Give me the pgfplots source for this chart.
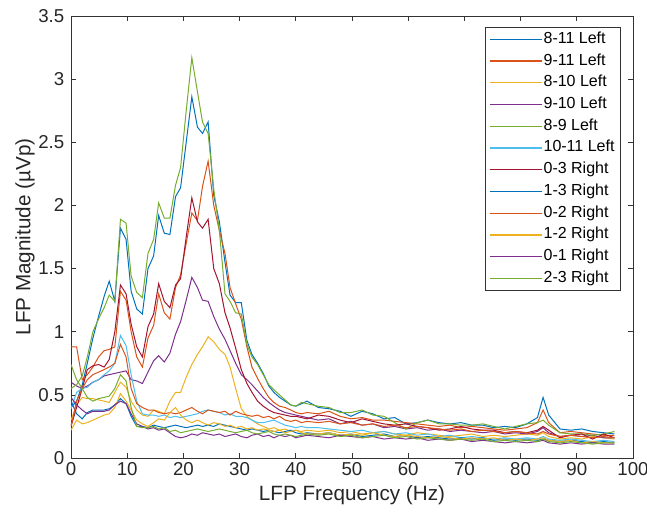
\documentclass[border=0pt]{standalone}
\usepackage{fontspec}
\setmainfont{Liberation Sans}
\usepackage{pgfplots}
\usepackage{pgfplotstable}
\pgfplotsset{compat=1.18}
\definecolor{mblue}{RGB}{0,114,189}
\definecolor{morange}{RGB}{217,83,25}
\definecolor{myellow}{RGB}{237,177,32}
\definecolor{mpurple}{RGB}{126,47,142}
\definecolor{mgreen}{RGB}{119,172,48}
\definecolor{mcyan}{RGB}{77,190,238}
\definecolor{mred}{RGB}{162,20,47}

% columns: A 8-11L, B 9-11L, C 8-10L, D 9-10L, E 8-9L, F 10-11L,
%          G 0-3R, H 1-3R, I 0-2R, J 1-2R, K 0-1R, L 2-3R
\pgfplotstableread{
f    A    B    C    D    E    F    G    H    I    J    K    L
0    0.40 0.88 0.30 0.60 0.55 0.39 0.25 0.45 0.25 0.22 0.48 0.74
1.0  0.45 0.88 0.42 0.57 0.58 0.52 0.40 0.35 0.45 0.30 0.42 0.62
2.0  0.58 0.62 0.48 0.55 0.65 0.55 0.55 0.31 0.55 0.27 0.38 0.55
2.9  0.75 0.66 0.47 0.57 0.80 0.56 0.70 0.36 0.62 0.28 0.35 0.48
3.9  0.95 0.72 0.47 0.60 1.00 0.60 0.73 0.38 0.66 0.30 0.37 0.45
4.9  1.12 0.80 0.46 0.62 1.10 0.62 0.74 0.38 0.68 0.32 0.37 0.47
5.9  1.28 0.85 0.45 0.65 1.19 0.66 0.72 0.38 0.70 0.34 0.37 0.48
6.8  1.40 0.86 0.44 0.66 1.29 0.69 0.78 0.39 0.72 0.35 0.38 0.49
7.8  1.24 0.88 0.52 0.67 1.24 0.75 1.00 0.42 0.75 0.40 0.42 0.55
8.8  1.82 1.32 0.60 0.68 1.89 0.97 1.37 0.47 0.90 0.51 0.45 0.66
9.8  1.73 1.25 0.56 0.69 1.86 0.89 1.30 0.43 0.80 0.45 0.43 0.61
10.7 1.32 1.00 0.45 0.62 1.44 0.66 1.06 0.33 0.55 0.38 0.35 0.40
11.7 1.18 0.80 0.38 0.61 1.31 0.45 0.88 0.25 0.43 0.30 0.27 0.25
12.7 1.14 0.72 0.34 0.59 1.27 0.35 0.80 0.25 0.40 0.27 0.25 0.24
13.7 1.50 0.95 0.33 0.68 1.62 0.34 1.04 0.24 0.38 0.25 0.23 0.24
14.7 1.60 1.05 0.38 0.77 1.73 0.34 1.14 0.26 0.38 0.28 0.24 0.25
15.6 1.92 1.30 0.37 0.81 2.02 0.33 1.38 0.25 0.36 0.31 0.22 0.23
16.6 1.78 1.15 0.35 0.76 1.90 0.34 1.24 0.24 0.35 0.30 0.23 0.24
17.6 1.77 1.10 0.45 0.83 1.90 0.32 1.19 0.25 0.36 0.36 0.20 0.21
18.6 2.07 1.35 0.52 0.98 2.16 0.33 1.37 0.26 0.35 0.40 0.17 0.22
19.5 2.14 1.45 0.52 1.08 2.30 0.32 1.42 0.25 0.36 0.34 0.16 0.20
20.5 2.50 1.70 0.64 1.25 2.75 0.33 1.75 0.24 0.38 0.30 0.17 0.21
21.5 2.86 1.94 0.74 1.43 3.17 0.34 2.06 0.25 0.40 0.28 0.19 0.22
22.5 2.62 1.88 0.82 1.35 2.90 0.35 1.87 0.26 0.37 0.30 0.18 0.23
23.4 2.57 2.15 0.88 1.25 2.66 0.37 1.82 0.25 0.35 0.28 0.20 0.22
24.4 2.66 2.35 0.96 1.24 2.57 0.38 1.89 0.26 0.38 0.26 0.19 0.21
25.4 2.08 2.00 0.92 1.12 2.13 0.37 1.50 0.25 0.37 0.28 0.18 0.22
26.4 1.87 1.80 0.86 1.02 1.80 0.36 1.38 0.27 0.36 0.27 0.19 0.23
27.4 1.55 1.62 0.82 0.94 1.30 0.34 1.15 0.26 0.37 0.25 0.17 0.22
28.3 1.29 1.35 0.72 0.85 1.24 0.35 1.03 0.25 0.34 0.26 0.18 0.21
29.3 1.23 1.22 0.55 0.75 1.15 0.33 0.87 0.24 0.37 0.24 0.19 0.20
30.3 1.23 1.10 0.39 0.66 1.14 0.33 0.70 0.23 0.35 0.25 0.17 0.21
31.3 0.93 0.88 0.33 0.62 0.90 0.32 0.59 0.22 0.34 0.23 0.16 0.22
32.2 0.82 0.72 0.30 0.58 0.80 0.30 0.52 0.23 0.33 0.24 0.18 0.20
33.2 0.75 0.63 0.27 0.53 0.74 0.28 0.45 0.22 0.34 0.22 0.19 0.19
34.2 0.67 0.55 0.25 0.48 0.66 0.28 0.41 0.21 0.32 0.23 0.17 0.20
35.2 0.57 0.48 0.23 0.44 0.58 0.29 0.38 0.22 0.33 0.22 0.18 0.21
36.1 0.52 0.44 0.24 0.41 0.54 0.30 0.36 0.21 0.31 0.21 0.16 0.19
37.1 0.48 0.41 0.22 0.38 0.50 0.28 0.35 0.20 0.33 0.22 0.18 0.18
38.1 0.45 0.40 0.23 0.36 0.46 0.26 0.34 0.21 0.30 0.20 0.17 0.19
39.1 0.42 0.38 0.21 0.35 0.42 0.25 0.33 0.22 0.29 0.21 0.18 0.18
40.0 0.41 0.36 0.22 0.34 0.41 0.24 0.33 0.20 0.30 0.22 0.16 0.17
41.0 0.43 0.35 0.21 0.33 0.44 0.25 0.32 0.19 0.28 0.20 0.17 0.18
42.0 0.45 0.36 0.22 0.32 0.43 0.24 0.31 0.20 0.29 0.19 0.18 0.19
44.0 0.40 0.35 0.21 0.30 0.41 0.24 0.34 0.19 0.28 0.19 0.17 0.18
45.9 0.39 0.37 0.22 0.31 0.40 0.23 0.33 0.20 0.29 0.20 0.16 0.19
47.9 0.37 0.33 0.20 0.27 0.36 0.22 0.30 0.18 0.27 0.18 0.18 0.17
49.8 0.33 0.31 0.21 0.29 0.36 0.21 0.28 0.19 0.28 0.19 0.17 0.18
51.8 0.37 0.32 0.19 0.26 0.38 0.22 0.31 0.17 0.26 0.18 0.16 0.16
53.7 0.35 0.30 0.20 0.27 0.34 0.20 0.29 0.18 0.27 0.20 0.17 0.17
55.7 0.31 0.30 0.21 0.24 0.33 0.21 0.27 0.19 0.25 0.18 0.15 0.18
57.6 0.32 0.29 0.19 0.25 0.28 0.19 0.26 0.17 0.26 0.17 0.16 0.16
59.6 0.27 0.28 0.18 0.23 0.23 0.20 0.27 0.18 0.24 0.18 0.15 0.17
61.6 0.28 0.27 0.20 0.24 0.28 0.18 0.25 0.16 0.25 0.17 0.16 0.15
63.5 0.30 0.26 0.19 0.22 0.30 0.19 0.24 0.17 0.24 0.16 0.14 0.16
65.5 0.28 0.25 0.18 0.23 0.27 0.17 0.22 0.16 0.23 0.17 0.15 0.15
67.4 0.27 0.26 0.17 0.21 0.27 0.18 0.23 0.15 0.22 0.16 0.14 0.14
69.4 0.28 0.24 0.18 0.22 0.26 0.16 0.25 0.16 0.23 0.15 0.15 0.15
71.3 0.26 0.25 0.19 0.21 0.26 0.17 0.23 0.15 0.21 0.16 0.13 0.14
73.3 0.26 0.24 0.17 0.20 0.27 0.16 0.22 0.16 0.22 0.15 0.14 0.15
75.2 0.24 0.23 0.18 0.21 0.25 0.15 0.22 0.14 0.21 0.16 0.13 0.13
77.2 0.25 0.22 0.17 0.19 0.23 0.16 0.20 0.15 0.20 0.14 0.12 0.14
79.1 0.24 0.23 0.18 0.20 0.25 0.15 0.21 0.14 0.21 0.15 0.13 0.13
81.1 0.27 0.24 0.19 0.19 0.27 0.16 0.20 0.15 0.20 0.14 0.12 0.14
83.0 0.32 0.28 0.18 0.21 0.28 0.15 0.22 0.14 0.19 0.15 0.13 0.13
84.0 0.48 0.38 0.20 0.24 0.30 0.17 0.25 0.15 0.21 0.16 0.14 0.15
85.0 0.34 0.28 0.17 0.20 0.26 0.15 0.22 0.14 0.19 0.14 0.12 0.13
87.0 0.23 0.20 0.15 0.17 0.20 0.14 0.16 0.13 0.17 0.13 0.11 0.12
88.9 0.22 0.21 0.16 0.18 0.19 0.15 0.18 0.14 0.18 0.14 0.12 0.13
90.9 0.23 0.20 0.15 0.17 0.19 0.14 0.19 0.13 0.17 0.12 0.11 0.12
92.8 0.21 0.19 0.17 0.18 0.18 0.13 0.15 0.12 0.16 0.13 0.12 0.11
94.8 0.20 0.18 0.16 0.16 0.19 0.14 0.19 0.13 0.17 0.12 0.11 0.12
96.7 0.19 0.18 0.15 0.16 0.21 0.13 0.16 0.12 0.16 0.12 0.11 0.12
}\lfp

\begin{document}
\begin{tikzpicture}
\begin{axis}[
    scale only axis,
    width=421.5pt, height=331.5pt,
    xmin=0, xmax=100, ymin=0, ymax=3.5,
    xtick={0,10,20,30,40,50,60,70,80,90,100},
    ytick={0,0.5,1,1.5,2,2.5,3,3.5},
    tick align=inside, major tick length=4pt,
    axis line style={black!80}, tick style={black!80, line width=0.5pt},
    /pgf/number format/assume math mode=true,
    ticklabel style={font=\fontsize{14}{16}\selectfont, text=black!85},
    yticklabel style={xshift=-1.5pt},
    xlabel={LFP Frequency (Hz)},
    ylabel={LFP Magnitude (µVp)},
    label style={font=\fontsize{15.5}{18}\selectfont, text=black!85},
    xlabel style={at={(axis description cs:0.5,-0.0837)}, anchor=center},
    ylabel style={at={(axis description cs:-0.0819,0.5)}, anchor=center},
    legend cell align=left,
    legend image code/.code={\draw[#1, line width=1pt] (0pt,0pt) -- (39pt,0pt);},
    legend style={at={(rel axis cs:0.977,0.975)}, anchor=north east,
        font=\fontsize{12}{14}\selectfont, draw=black!80,
        inner xsep=3pt, inner ysep=2pt, row sep=2.3pt,
        nodes={inner sep=1pt, text height=9pt, text depth=3pt}},
    every axis plot/.append style={line width=0.75pt},
    no markers,
]
\addplot[mblue] table[x=f,y=A]{\lfp};
\addlegendentry{8-11 Left}
\addplot[morange] table[x=f,y=B]{\lfp};
\addlegendentry{9-11 Left}
\addplot[myellow] table[x=f,y=C]{\lfp};
\addlegendentry{8-10 Left}
\addplot[mpurple] table[x=f,y=D]{\lfp};
\addlegendentry{9-10 Left}
\addplot[mgreen] table[x=f,y=E]{\lfp};
\addlegendentry{8-9 Left}
\addplot[mcyan] table[x=f,y=F]{\lfp};
\addlegendentry{10-11 Left}
\addplot[mred] table[x=f,y=G]{\lfp};
\addlegendentry{0-3 Right}
\addplot[mblue] table[x=f,y=H]{\lfp};
\addlegendentry{1-3 Right}
\addplot[morange] table[x=f,y=I]{\lfp};
\addlegendentry{0-2 Right}
\addplot[myellow] table[x=f,y=J]{\lfp};
\addlegendentry{1-2 Right}
\addplot[mpurple] table[x=f,y=K]{\lfp};
\addlegendentry{0-1 Right}
\addplot[mgreen] table[x=f,y=L]{\lfp};
\addlegendentry{2-3 Right}
\end{axis}
\pgfresetboundingbox
\path ([xshift=-53.25pt,yshift=-43.5pt]current axis.south west)
  rectangle ([xshift=10.5pt,yshift=12pt]current axis.north east);
\end{tikzpicture}
\end{document}
